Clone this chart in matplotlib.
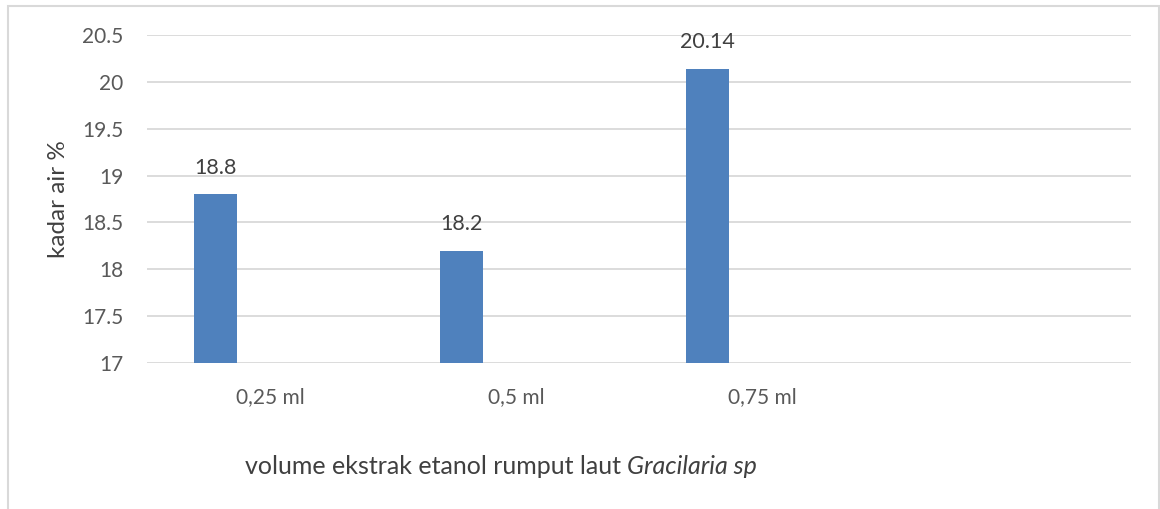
import matplotlib
matplotlib.use("Agg")
import matplotlib.pyplot as plt
from matplotlib.patches import Rectangle
import numpy as np

# data
categories = ["0,25 ml", "0,5 ml", "0,75 ml", ""]
kadar_air = [18.8, 18.2, 20.14]
value_labels = ["18.8", "18.2", "20.14"]
y_ticks = [17, 17.5, 18, 18.5, 19, 19.5, 20, 20.5]

plt.rcParams["font.family"] = ["Lato", "DejaVu Sans"]

fig = plt.figure(figsize=(11.6, 5.09), dpi=100)
ax = fig.add_axes([0.1267, 0.2868, 0.975 - 0.1267, 0.9312 - 0.2868])

x = np.arange(len(categories))
bar_x = x[:len(kadar_air)] - 0.2215
ax.bar(bar_x, np.array(kadar_air) - 17, bottom=17, width=0.175, color="#4F81BD", zorder=3)

for bx, val, lab in zip(bar_x, kadar_air, value_labels):
    ax.annotate(lab, (bx, val), xytext=(0, 12), textcoords="offset points",
                ha="center", va="bottom", fontsize=15.5, color="#404040")

ax.set_xlim(-0.5, len(categories) - 0.5)
ax.set_ylim(17, 20.5)
ax.set_yticks(y_ticks)
ax.set_yticklabels([("%g" % t) for t in y_ticks])
ax.set_xticks(x)
ax.set_xticklabels(categories)
ax.tick_params(axis="both", length=0, labelsize=15, labelcolor="#595959")
ax.tick_params(axis="y", pad=17)
ax.tick_params(axis="x", pad=17)
ax.yaxis.grid(True, color="#D9D9D9", linewidth=1.3, zorder=0)
for s in ax.spines.values():
    s.set_visible(False)

ax.set_ylabel("kadar air %", fontsize=17.5, color="#404040")
ax.yaxis.set_label_coords(-(147 - 69) / 984, 0.5)

# axis title, with the species name in italic
t1 = fig.text(245 / 1160, 1 - 466 / 509, "volume ekstrak etanol rumput laut ",
              fontsize=18, color="#404040", ha="left", va="center")
fig.canvas.draw()
bb = t1.get_window_extent()
fig.text(bb.x1 / fig.bbox.width, 1 - 466 / 509, "Gracilaria sp", fontsize=18,
         style="italic", color="#404040", ha="left", va="center")

# chart border
fig.patches.append(Rectangle((8 / 1160, -0.05), (1159 - 8) / 1160, 1.05 - 6 / 509,
                             transform=fig.transFigure, fill=False,
                             edgecolor="#D9D9D9", linewidth=1.5))

fig.savefig("out.png", dpi=100)
